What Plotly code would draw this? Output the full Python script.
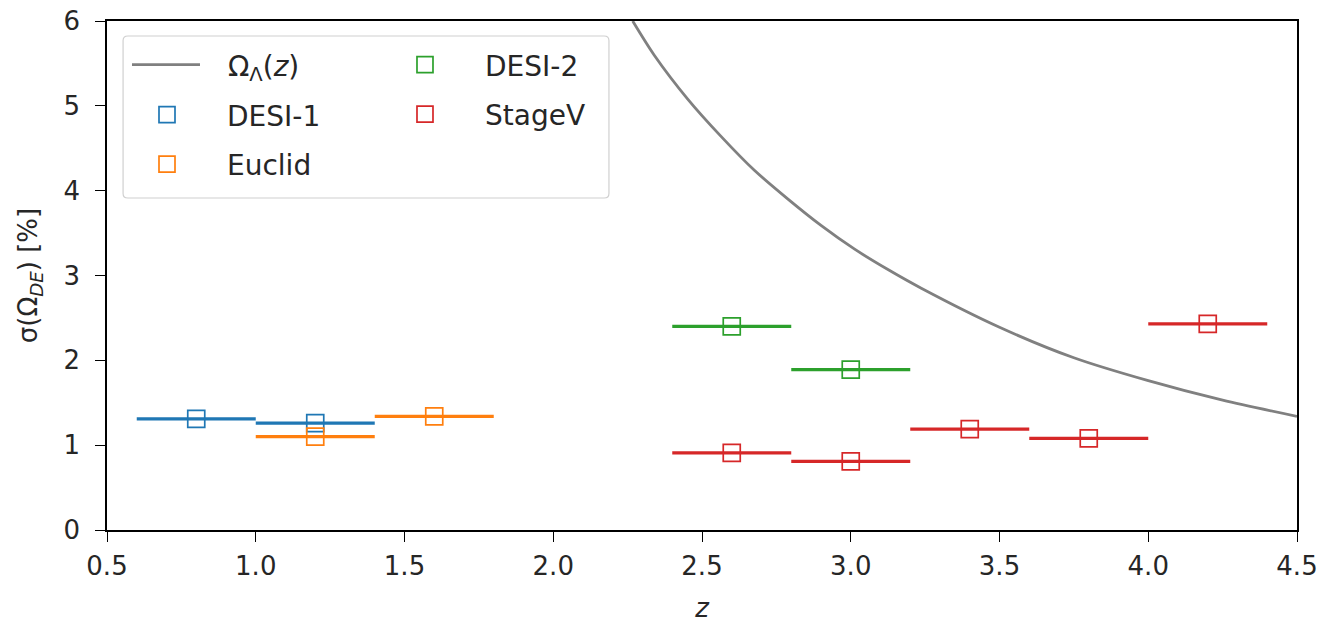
import plotly.graph_objects as go

# --- data ---
desi1_z = [0.8, 1.2]
desi1_s = [1.31, 1.26]
euclid_z = [1.2, 1.6]
euclid_s = [1.10, 1.34]
desi2_z = [2.6, 3.0]
desi2_s = [2.40, 1.89]
stagev_z = [2.6, 3.0, 3.4, 3.8, 4.2]
stagev_s = [0.91, 0.81, 1.19, 1.08, 2.43]
bin_halfwidth = 0.2

curve_z = [2.267, 2.339, 2.452, 2.564, 2.676, 2.789, 2.90, 3.013, 3.125, 3.237, 3.5, 3.75, 4.0, 4.25, 4.5]
curve_s = [6.0, 5.6, 5.08, 4.64, 4.24, 3.90, 3.59, 3.31, 3.07, 2.85, 2.39, 2.03, 1.76, 1.53, 1.34]

x_ticks = [0.5, 1.0, 1.5, 2.0, 2.5, 3.0, 3.5, 4.0, 4.5]
y_ticks = [0, 1, 2, 3, 4, 5, 6]

colors = {"DESI-1": "#1f77b4", "Euclid": "#ff7f0e", "DESI-2": "#2ca02c", "StageV": "#d62728"}
FONT = "DejaVu Sans"
TXT = "#262626"

fig = go.Figure()

fig.add_trace(go.Scatter(
    x=curve_z, y=curve_s, mode="lines", line=dict(color="#808080", width=2.8, shape="spline", smoothing=0.8),
    name="\u2002\u00a0Ω<sub>Λ</sub>(<i>z</i>)", legend="legend3", legendgroup="a"))

def add_series(name, zs, ss, legend, group):
    fig.add_trace(go.Scatter(
        x=zs, y=ss, mode="markers", name=name, legend=legend, legendgroup=group,
        marker=dict(symbol="square-open", size=17, color=colors[name], line=dict(width=1.7, color=colors[name])),
        error_x=dict(type="data", array=[bin_halfwidth] * len(zs), thickness=3.3, width=0, color=colors[name]),
    ))

add_series("DESI-1", desi1_z, desi1_s, "legend", "b")
add_series("Euclid", euclid_z, euclid_s, "legend", "c")
add_series("DESI-2", desi2_z, desi2_s, "legend2", "d")
add_series("StageV", stagev_z, stagev_s, "legend2", "e")

# legend frame (matplotlib style rounded box)
x0, x1, y0, y1 = 0.0135, 0.4218, 0.6523, 0.9705
rx, ry = 0.004, 0.009
path = (f"M{x0+rx},{y1} L{x1-rx},{y1} Q{x1},{y1} {x1},{y1-ry} L{x1},{y0+ry} Q{x1},{y0} {x1-rx},{y0} "
        f"L{x0+rx},{y0} Q{x0},{y0} {x0},{y0+ry} L{x0},{y1-ry} Q{x0},{y1} {x0+rx},{y1} Z")
fig.add_shape(type="path", xref="paper", yref="paper", path=path,
              line=dict(color="#d0d0d0", width=1.2), fillcolor="rgba(255,255,255,0.8)", layer="below")

legend_common = dict(bgcolor="rgba(0,0,0,0)", borderwidth=0, font=dict(family=FONT, size=28, color=TXT),
                     tracegroupgap=10, xanchor="left", yanchor="top", itemclick=False)

fig.update_layout(
    width=1321, height=623,
    margin=dict(l=107, r=24, t=21, b=93, autoexpand=False),
    paper_bgcolor="white", plot_bgcolor="white",
    font=dict(family=FONT, size=26, color=TXT),
    showlegend=True,
    legend=dict(x=0.0, y=0.8644, itemwidth=110, **legend_common),
    legend2=dict(x=0.2168, y=0.9627, itemwidth=110, **legend_common),
    legend3=dict(x=0.0168, y=0.9627, itemwidth=68, **legend_common),
    xaxis=dict(range=[0.5, 4.5], tickvals=x_ticks, ticktext=[f"{v:.1f}" for v in x_ticks],
               ticks="outside", ticklen=10, tickwidth=1.3, tickcolor="black", ticklabelstandoff=2,
               ticklabeloverflow="allow", automargin=False, tickfont=dict(size=26, color=TXT),
               showline=True, linecolor="black", linewidth=1.5, mirror=True, showgrid=False, zeroline=False,
               title=dict(text="<i>z</i>", standoff=22, font=dict(size=26))),
    yaxis=dict(range=[0, 6], tickvals=y_ticks, ticks="outside", ticklen=10, tickwidth=1.3, tickcolor="black",
               ticklabelstandoff=10, ticklabeloverflow="allow", automargin=False, tickfont=dict(size=26, color=TXT),
               showline=True, linecolor="black", linewidth=1.5, mirror=True, showgrid=False, zeroline=False,
               title=dict(text="σ(Ω<sub><i>DE</i></sub>) [%]", standoff=18, font=dict(size=26))),
)

fig.write_html("out.html", config={"displayModeBar": False},
               post_script="document.body.style.margin='0';document.body.style.overflow='hidden';")
